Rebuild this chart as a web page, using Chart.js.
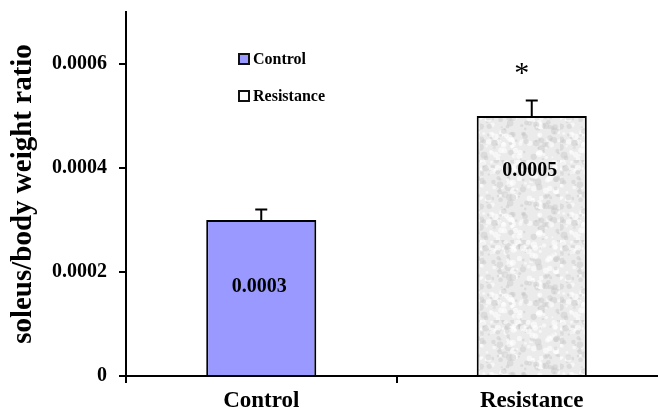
<!DOCTYPE html>
<html>
<head>
<meta charset="utf-8">
<script src="https://cdn.jsdelivr.net/npm/chart.js"></script>
<style>
  html, body { margin: 0; padding: 0; background: #fff; }
  #wrap { width: 658px; height: 408px; overflow: hidden; }
</style>
</head>
<body>
<div id="wrap"><canvas id="muscleChart" width="667" height="408"></canvas></div>
<script>
// data
const groups = ['Control', 'Resistance'];
const ratios = [0.0003, 0.0005];
const errors = [0.00002, 0.00003];
const valueLabels = ['0.0003', '0.0005'];
const marks = ['', '*'];
const yTicks = [0, 0.0002, 0.0004, 0.0006];

const serif = '"Liberation Serif", "Times New Roman", serif';

// speckled light-grey fill for the Resistance bar
function speckle() {
    const c = document.createElement('canvas');
    c.width = 80; c.height = 80;
    const g = c.getContext('2d');
    g.fillStyle = '#ebebeb';
    g.fillRect(0, 0, 80, 80);
    let s = 7;
    const rnd = () => { s = (s * 9301 + 49297) % 233280; return s / 233280; };
    for (let i = 0; i < 260; i++) {
        g.fillStyle = rnd() < 0.5 ? 'rgba(200,200,200,0.45)' : 'rgba(255,255,255,0.6)';
        g.beginPath();
        g.arc(rnd() * 80, rnd() * 80, 1 + rnd() * 2.5, 0, Math.PI * 2);
        g.fill();
    }
    return g.createPattern(c, 'repeat');
}

const ctx = document.getElementById('muscleChart').getContext('2d');
const resistFill = speckle();

// error bars, labels in bars, asterisk and the little legend
const extras = {
    id: 'extras',
    afterDatasetsDraw(chart) {
        const c = chart.ctx;
        const y = chart.scales.y;
        const meta = chart.getDatasetMeta(0);
        const labelFrac = [0.57, 0.79];
        c.save();
        c.strokeStyle = '#000';
        c.lineWidth = 2;
        meta.data.forEach((bar, i) => {
            const top = y.getPixelForValue(ratios[i]);
            const errTop = y.getPixelForValue(ratios[i] + errors[i]);
            c.beginPath();
            c.moveTo(bar.x, top);
            c.lineTo(bar.x, errTop);
            c.moveTo(bar.x - 6, errTop);
            c.lineTo(bar.x + 6, errTop);
            c.stroke();

            c.fillStyle = '#000';
            c.font = 'bold 20px ' + serif;
            c.textAlign = 'center';
            c.textBaseline = 'middle';
            c.fillText(valueLabels[i], bar.x - 2, y.getPixelForValue(ratios[i] * labelFrac[i]));

            if (marks[i]) {
                c.font = '30px ' + serif;
                c.textBaseline = 'alphabetic';
                c.fillText(marks[i], bar.x - 10, errTop - 18);
            }
        });

        // legend
        const area = chart.chartArea;
        const fills = ['#9999ff', '#ffffff'];
        c.font = 'bold 16px ' + serif;
        c.textAlign = 'left';
        c.textBaseline = 'middle';
        groups.forEach((g, i) => {
            const lx = area.left + 118;
            const ly = area.top + 47 + i * 37;
            c.fillStyle = fills[i];
            c.fillRect(lx - 5, ly - 5, 10, 10);
            c.strokeStyle = '#111';
            c.lineWidth = 2;
            c.strokeRect(lx - 5, ly - 5, 10, 10);
            c.fillStyle = '#000';
            c.fillText(g, lx + 9, ly + 1);
        });
        c.restore();
    }
};

new Chart(ctx, {
    type: 'bar',
    data: {
        labels: groups,
        datasets: [{
            data: ratios,
            backgroundColor: ['#9999ff', resistFill],
            borderColor: '#000',
            borderWidth: 2,
            borderSkipped: 'bottom',
            categoryPercentage: 1,
            barPercentage: 0.407
        }]
    },
    options: {
        responsive: false,
        animation: false,
        layout: { padding: { top: 12, right: 0, bottom: 0, left: 0 } },
        plugins: {
            legend: { display: false },
            tooltip: { enabled: false }
        },
        scales: {
            x: {
                offset: true,
                grid: { offset: true, drawOnChartArea: false, drawTicks: true, tickLength: 7, color: '#000', lineWidth: 2 },
                border: { color: '#000', width: 2 },
                ticks: { color: '#000', padding: 4, font: { family: serif, size: 23, weight: 'bold' } },
                afterFit(scale) { scale.height = 32; }
            },
            y: {
                min: 0,
                max: 0.0007,
                afterBuildTicks(scale) { scale.ticks = yTicks.map(v => ({ value: v })); },
                grid: { drawOnChartArea: false, drawTicks: true, tickLength: 7, color: '#000', lineWidth: 2 },
                border: { color: '#000', width: 2 },
                ticks: {
                    color: '#000',
                    padding: 12,
                    font: { family: serif, size: 20, weight: 'bold' },
                    callback: v => v === 0 ? '0' : v.toFixed(4)
                },
                title: {
                    display: true,
                    text: 'soleus/body weight ratio',
                    color: '#000',
                    padding: { top: 6, bottom: 0 },
                    font: { family: serif, size: 29, weight: 'bold' }
                },
                afterFit(scale) {
                    scale.width = 126;
                    scale.paddingTop = 0;
                    scale.paddingBottom = 0;
                }
            }
        }
    },
    plugins: [extras]
});
</script>
</body>
</html>
